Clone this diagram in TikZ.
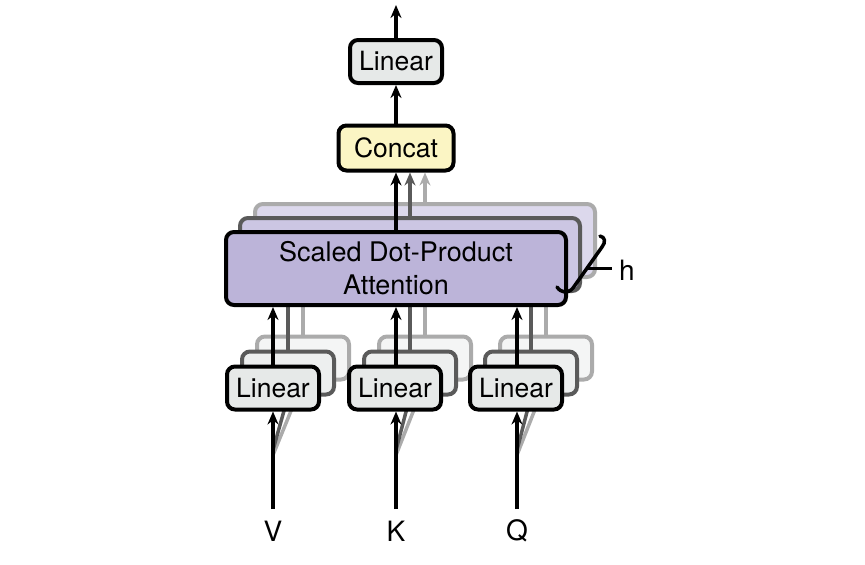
\documentclass[tikz,border=0pt]{standalone}
\usepackage{fontspec}
\setmainfont{TeX Gyre Heros}
\usetikzlibrary{arrows.meta}
\definecolor{linfill}{HTML}{E6E9E8}
\definecolor{catfill}{HTML}{FBF5C4}
\definecolor{attfill}{HTML}{BCB4D9}
\definecolor{attfillb}{HTML}{CCC6E3}
\definecolor{attfillc}{HTML}{DCD8EC}
\definecolor{linfillb}{HTML}{EDEFEF}
\definecolor{linfillc}{HTML}{F4F5F5}
\definecolor{edgeb}{HTML}{5A5A5A}
\definecolor{edgec}{HTML}{ABABAB}
\tikzset{
  blk/.style={draw=black, line width=4pt, rounded corners=8pt, inner sep=0pt,
              font=\fontsize{26.5}{30}\selectfont},
  linbox/.style={blk, fill=linfill, minimum width=92pt, minimum height=43pt},
  attbox/.style={blk, fill=attfill, minimum width=340pt, minimum height=73pt,
                 align=center, font=\fontsize{27}{33}\selectfont},
  catbox/.style={blk, fill=catfill, minimum width=115pt, minimum height=45pt},
  backb/.style={draw=edgeb},
  backc/.style={draw=edgec},
  arr/.style={line width=3.5pt, -{Stealth[length=13pt,width=11pt]}},
  arrb/.style={arr, draw=edgeb, color=edgeb},
  arrc/.style={arr, draw=edgec, color=edgec},
  inp/.style={font=\fontsize{28}{32}\selectfont, inner sep=0pt}
}
\begin{document}
\begin{tikzpicture}[x=1pt, y=-1pt]
\useasboundingbox (0,0) rectangle (865,565);

% ---- third head (furthest back)
\node[linbox, backc, fill=linfillc] (lv3) at (303,358) {};
\node[linbox, backc, fill=linfillc] (lk3) at (425,358) {};
\node[linbox, backc, fill=linfillc] (lq3) at (546,358) {};
\node[attbox, backc, fill=attfillc] (att3) at (425,240.5) {};
\coordinate (vin3) at (273,455);
\coordinate (kin3) at (396,455);
\coordinate (qin3) at (517,455);
\draw[arrc] (vin3) -- (lv3.south);
\draw[arrc] (kin3) -- (lk3.south);
\draw[arrc] (qin3) -- (lq3.south);
\draw[arrc] (lv3.north) -- (att3.south -| lv3.north);
\draw[arrc] (lk3.north) -- (att3.south -| lk3.north);
\draw[arrc] (lq3.north) -- (att3.south -| lq3.north);

% ---- second head
\node[linbox, backb, fill=linfillb] (lv2) at (288,373) {};
\node[linbox, backb, fill=linfillb] (lk2) at (410,373) {};
\node[linbox, backb, fill=linfillb] (lq2) at (531,373) {};
\node[attbox, backb, fill=attfillb] (att2) at (410,254.5) {};
\coordinate (vin2) at (273,450);
\coordinate (kin2) at (396,450);
\coordinate (qin2) at (517,450);
\draw[arrb] (vin2) -- (lv2.south);
\draw[arrb] (kin2) -- (lk2.south);
\draw[arrb] (qin2) -- (lq2.south);
\draw[arrb] (lv2.north) -- (att2.south -| lv2.north);
\draw[arrb] (lk2.north) -- (att2.south -| lk2.north);
\draw[arrb] (lq2.north) -- (att2.south -| lq2.north);

% ---- front head
\node[linbox] (lv) at (273,388) {Linear};
\node[linbox] (lk) at (395,388) {Linear};
\node[linbox] (lq) at (516,388) {Linear};
\node[attbox] (att) at (396,268.5) {Scaled Dot-Product\\Attention};

% ---- output stage
\node[catbox] (cat) at (396,148) {Concat};
\node[linbox] (lout) at (396,61.5) {Linear};
\coordinate (out) at (396,5);

% ---- inputs
\node[inp] (v) at (273,531) {V};
\node[inp] (k) at (396,531) {K};
\node[inp] (q) at (517,531) {Q};
\coordinate (vin) at (273,509);
\coordinate (kin) at (396,509);
\coordinate (qin) at (517,509);

\draw[arr] (vin) -- (lv.south -| vin);
\draw[arr] (kin) -- (lk.south -| kin);
\draw[arr] (qin) -- (lq.south -| qin);
\draw[arr] (lv.north -| vin) -- (att.south -| vin);
\draw[arr] (lk.north -| kin) -- (att.south -| kin);
\draw[arr] (lq.north -| qin) -- (att.south -| qin);

% heads into concat
\draw[arrc] (att3.north) -- (cat.south -| att3.north);
\draw[arrb] (att2.north) -- (cat.south -| att2.north);
\draw[arr] (att.north) -- (cat.south);
\draw[arr] (cat.north) -- (lout.south);
\draw[arr] (lout.north) -- (out);

% ---- head-count brace
\coordinate (br0) at (557,287);
\coordinate (br1) at (573,288);
\coordinate (br2) at (602,247);
\coordinate (br3) at (600,236);
\coordinate (brm) at (588,268);
\node[inp, anchor=west, inner xsep=7pt] (h) at (612,270) {h};
\draw[line width=3.5pt, line cap=round]
  (br0) .. controls (561,293) and (568,294) .. (br1)
  -- (br2) .. controls (606,242) and (605,237) .. (br3);
\draw[line width=3pt] (brm) -- (brm -| h.west);
\end{tikzpicture}
\end{document}
